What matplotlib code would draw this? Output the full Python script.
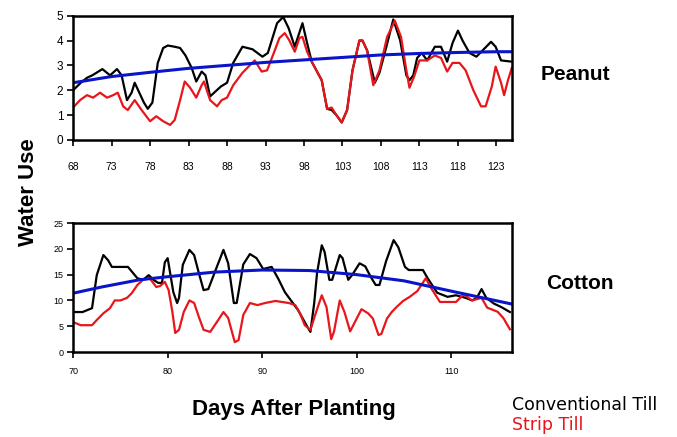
import matplotlib
matplotlib.use('Agg')
import matplotlib.pyplot as plt

plt.rcParams['font.family'] = ['Liberation Sans', 'DejaVu Sans']

# Peanut (top panel)
peanut_conv_days = [68, 69, 69.8, 70.5, 71.8, 72.8, 73.7, 74.3, 75, 75.6, 76, 76.6, 77.2, 77.7, 78.3,
                    79, 79.7, 80.3, 81.2, 81.9, 82.6, 83.4, 84, 84.7, 85.2, 85.8, 86.5, 87.2, 88,
                    88.8, 90, 91.3, 92.6, 93.3, 94.5, 95.3, 96, 96.8, 97.8, 98.4, 99, 100.3, 101,
                    101.6, 102.2, 102.9, 103.6, 104.3, 105.2, 105.6, 106.2, 107.2, 107.8, 108.7,
                    109.6, 110.5, 111.3, 111.7, 112.2, 112.7, 113.3, 114, 115, 115.8, 116.6, 117.3,
                    118, 118.6, 119.5, 120.4, 121.2, 122.3, 122.9, 123.6, 125]
peanut_conv = [2.0, 2.3, 2.5, 2.6, 2.85, 2.6, 2.85, 2.6, 1.6, 1.9, 2.3, 1.9, 1.5, 1.25, 1.5,
               3.1, 3.7, 3.8, 3.75, 3.7, 3.4, 2.9, 2.35, 2.75, 2.6, 1.75, 1.95, 2.15, 2.3,
               3.1, 3.75, 3.65, 3.35, 3.5, 4.7, 4.95, 4.5, 3.75, 4.7, 3.9, 3.15, 2.4, 1.25,
               1.2, 1.0, 0.7, 1.2, 2.8, 4.0, 4.0, 3.6, 2.3, 2.7, 3.75,
               4.85, 4.0, 2.6, 2.4, 2.6, 3.3, 3.5, 3.2, 3.75, 3.75, 3.15, 3.9,
               4.4, 4.0, 3.5, 3.35, 3.6, 3.95, 3.75, 3.2, 3.15]

peanut_strip_days = [68, 68.9, 69.8, 70.6, 71.5, 72.4, 73.2, 73.8, 74.5, 75.1, 76, 76.9, 78, 78.8,
                     79.7, 80.6, 81.2, 81.9, 82.5, 83.2, 84, 84.7, 85, 85.8, 86.7, 87.3, 88, 88.8,
                     90, 90.8, 91.6, 92.5, 93.2, 94.2, 94.8, 95.5, 96.1, 96.8, 97.4, 97.8, 98.4, 99,
                     100.3, 101, 101.6, 102.2, 102.9, 103.6, 104.3, 105.2, 105.6, 106.2, 107, 107.8,
                     108.8, 109.8, 110.6, 111.3, 111.7, 112.3, 113, 114, 115, 115.8, 116.6, 117.3,
                     118.2, 119, 120, 121, 121.6, 122.4, 122.9, 123.6, 124, 124.5, 125]
peanut_strip = [1.3, 1.6, 1.8, 1.7, 1.9, 1.7, 1.8, 1.9, 1.35, 1.2, 1.6, 1.2, 0.75, 0.95,
                0.75, 0.6, 0.8, 1.6, 2.35, 2.1, 1.7, 2.2, 2.35, 1.6, 1.35, 1.6, 1.7, 2.2,
                2.7, 2.95, 3.2, 2.75, 2.8, 3.6, 4.1, 4.3, 4.0, 3.55, 4.1, 4.15, 3.55, 3.15,
                2.4, 1.25, 1.3, 1.0, 0.7, 1.2, 2.8, 4.0, 4.0, 3.6, 2.2, 2.8,
                4.15, 4.8, 4.15, 2.8, 2.1, 2.55, 3.2, 3.2, 3.4, 3.3, 2.75, 3.1,
                3.1, 2.8, 2.0, 1.35, 1.35, 2.15, 2.95, 2.3, 1.8, 2.4, 2.9]

peanut_trend_days = [68, 73, 78, 83, 88, 93, 98, 103, 108, 113, 118, 123, 125]
peanut_trend = [2.3, 2.55, 2.72, 2.88, 3.0, 3.12, 3.22, 3.32, 3.42, 3.48, 3.52, 3.55, 3.55]

# Cotton (bottom panel)
cotton_conv_days = [70, 71, 72, 72.5, 73.2, 73.7, 74.1, 75.8, 76.8, 77.4, 78, 78.5, 79, 79.4, 79.7,
                    80, 80.3, 80.6, 81, 81.2, 81.6, 82.3, 82.8, 83.3, 83.8, 84.3, 85.2, 85.9, 86.4,
                    87, 87.3, 88, 88.7, 89.4, 90.1, 91, 91.7, 92.4, 93.8, 94.8, 95.1, 95.5, 95.8,
                    96.3, 96.6, 97.1, 97.4, 98.2, 98.5, 99.1, 99.5, 100.3, 100.9, 101.5, 102, 102.4,
                    103.1, 103.9, 104.4, 105.1, 105.5, 107, 107.5, 108.5, 109.6, 110.5, 111.5, 112.2,
                    112.7, 113.2, 113.7, 114.5, 115.3, 116.2]
cotton_conv = [7.75, 7.75, 8.5, 14.9, 18.8, 17.8, 16.5, 16.5, 14.3, 14.0, 14.9, 14.0, 13.4, 13.4, 17.4,
               18.2, 14.9, 11.6, 9.5, 10.5, 16.9, 19.8, 18.8, 15.3, 12.0, 12.2, 16.5, 19.8, 17.2,
               9.5, 9.5, 17.0, 19.0, 18.2, 16.1, 16.5, 14.2, 11.6, 8.1, 4.8, 3.9, 9.5, 15.3,
               20.7, 19.4, 14.0, 14.0, 18.8, 18.2, 14.0, 14.9, 17.2, 16.6, 14.5, 13.0, 13.0,
               17.6, 21.7, 20.3, 16.5, 15.9, 15.9, 14.3, 11.5, 10.7, 11.0, 10.5, 10.0,
               10.5, 12.2, 10.5, 9.4, 8.7, 7.75]

cotton_strip_days = [70, 70.8, 72, 72.5, 73.2, 73.9, 74.4, 75, 75.7, 76.2, 76.8, 77.4, 78.1, 78.8,
                     79.2, 79.7, 80.1, 80.5, 80.8, 81.2, 81.7, 82.3, 82.8, 83.3, 83.8, 84.5, 85.2,
                     85.9, 86.4, 87.1, 87.5, 88, 88.7, 89.5, 90.3, 91.4, 92.1, 92.8, 93.5, 94, 94.5,
                     95.1, 95.6, 96.3, 96.8, 97.3, 97.6, 98.2, 98.7, 99.3, 99.8, 100.5, 101.2, 101.7,
                     102.3, 102.6, 103.2, 103.7, 104.2, 104.9, 105.6, 106.4, 107.3, 107.9, 108.8,
                     109.6, 110.5, 111.3, 112.2, 113.2, 113.8, 114.9, 115.5, 116.2]
cotton_strip = [5.8, 5.2, 5.2, 6.2, 7.5, 8.5, 10.0, 10.0, 10.5, 11.4, 13.0, 14.0, 14.3, 12.6,
                12.8, 13.6, 12.0, 7.75, 3.7, 4.3, 7.75, 10.0, 9.5, 6.8, 4.3, 3.9, 5.8,
                7.75, 6.6, 1.9, 2.3, 7.2, 9.5, 9.1, 9.5, 9.9, 9.7, 9.5, 9.1, 7.5, 5.2,
                4.3, 7.2, 11.0, 8.7, 2.5, 4.0, 10.0, 7.75, 4.0, 5.8, 8.3, 7.5, 6.5,
                3.3, 3.5, 6.5, 7.75, 8.7, 9.9, 10.7, 11.8, 14.3, 12.3, 9.7,
                9.7, 9.7, 11.2, 10.0, 10.5, 8.6, 7.8, 6.6, 4.4]

cotton_trend_days = [70, 73, 77, 80, 85, 90, 95, 100, 105, 110, 116.4]
cotton_trend = [11.4, 12.6, 14.0, 14.6, 15.5, 15.9, 15.8, 15.0, 13.8, 11.8, 9.3]

fig = plt.figure(figsize=(6.77, 4.37), dpi=100)
ax1 = fig.add_axes([0.108, 0.680, 0.648, 0.284])
ax2 = fig.add_axes([0.108, 0.1945, 0.648, 0.295])

black = '#000000'
red = '#e8161b'
blue = '#0a14c8'

ax1.plot(peanut_conv_days, peanut_conv, color=black, lw=1.6)
ax1.plot(peanut_strip_days, peanut_strip, color=red, lw=1.6)
ax1.plot(peanut_trend_days, peanut_trend, color=blue, lw=2.2)
ax1.set_xlim(68, 125)
ax1.set_ylim(0, 5)
ax1.set_xticks(range(68, 124, 5))
ax1.set_yticks(range(0, 6))

ax2.plot(cotton_conv_days, cotton_conv, color=black, lw=1.6)
ax2.plot(cotton_strip_days, cotton_strip, color=red, lw=1.6)
ax2.plot(cotton_trend_days, cotton_trend, color=blue, lw=2.2)
ax2.set_xlim(70, 116.4)
ax2.set_ylim(0, 25)
ax2.set_xticks(range(70, 116, 10))
ax2.set_yticks(range(0, 26, 5))

for ax in (ax1, ax2):
    for s in ax.spines.values():
        s.set_linewidth(1.8)
    ax.tick_params(direction='out', length=4, width=1.2, labelsize=6.5, pad=3)

ax1.tick_params(axis='y', labelsize=8.5)
ax1.tick_params(axis='x', labelsize=7.5, pad=12)
ax2.tick_params(axis='x', pad=7)

fig.text(0.042, 0.56, 'Water Use', rotation=90, ha='center', va='center',
         fontsize=16, fontweight='bold')
fig.text(0.85, 0.83, 'Peanut', ha='center', va='center', fontsize=15, fontweight='bold')
fig.text(0.857, 0.352, 'Cotton', ha='center', va='center', fontsize=15, fontweight='bold')
fig.text(0.434, 0.062, 'Days After Planting', ha='center', va='center',
         fontsize=16, fontweight='bold')
fig.text(0.756, 0.073, 'Conventional Till', ha='left', va='center', fontsize=12.5,
         color='black', family=['DejaVu Sans'])
fig.text(0.756, 0.027, 'Strip Till', ha='left', va='center', fontsize=12.5,
         color=red, family=['DejaVu Sans'])

plt.savefig('out.png', dpi=100)
